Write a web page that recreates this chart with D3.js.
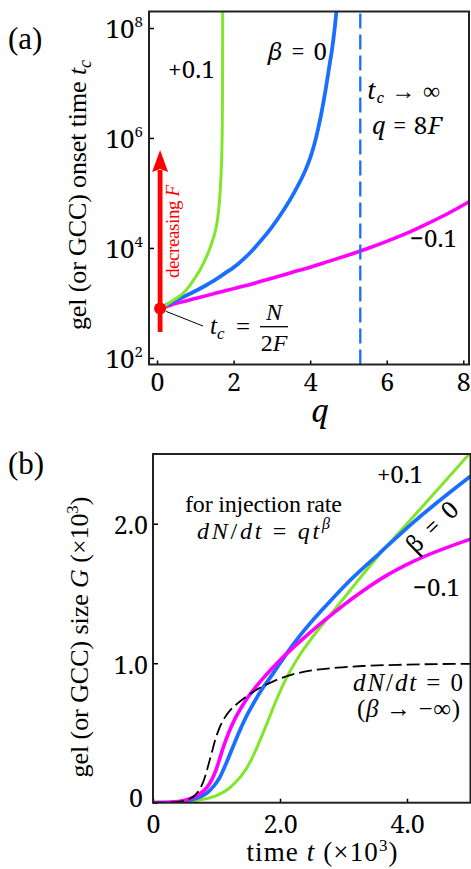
<!DOCTYPE html>
<html><head><meta charset="utf-8">
<script src="https://cdn.jsdelivr.net/npm/d3@7"></script>
<style>
body{margin:0;background:#fff}
svg{display:block}
</style>
</head><body>
<svg id="c" width="471" height="869"></svg>
<script>
// ===== Panel (a) data: gel onset time t_c vs q (t_c given as log10 exponents) =====
const qTicks = [0, 2, 4, 6, 8];
const tcTickExps = [2, 4, 6, 8];
const qDot = 0.08, tcDotExp = 2.90;           // t_c = N/2F point
const qAsymptote = 5.31;                       // q = 8F dashed line
const arrowBottomExp = 2.47, arrowTipExp = 5.78;
const qPlus01  = [0.08, 0.21, 0.45, 0.69, 0.90, 1.12, 1.30, 1.43, 1.52, 1.58, 1.625, 1.655, 1.68, 1.695, 1.705, 1.711, 1.714, 1.716];
const tcExpPlus01 = [2.90, 2.95, 3.06, 3.18, 3.36, 3.60, 3.85, 4.09, 4.30, 4.52, 4.80, 5.10, 5.45, 5.80, 6.30, 7.00, 7.70, 8.50];
const qBeta0   = [0.08, 0.30, 0.60, 0.90, 1.20, 1.50, 1.80, 2.10, 2.40, 2.70, 3.00, 3.30, 3.60, 3.91, 4.04, 4.16, 4.28, 4.40, 4.50, 4.58, 4.65, 4.70, 4.74];
const tcExpBeta0  = [2.90, 2.98, 3.08, 3.18, 3.29, 3.41, 3.55, 3.70, 3.89, 4.12, 4.38, 4.68, 5.03, 5.47, 5.72, 6.02, 6.40, 6.86, 7.30, 7.65, 8.05, 8.40, 8.70];
const qMinus01 = [0.08, 0.30, 0.60, 1.00, 1.50, 2.00, 2.50, 3.00, 3.50, 4.00, 4.50, 5.00, 5.50, 6.00, 6.50, 7.00, 7.50, 8.20];
const tcExpMinus01 = [2.90, 2.95, 3.01, 3.08, 3.17, 3.26, 3.35, 3.45, 3.55, 3.65, 3.76, 3.87, 3.99, 4.12, 4.26, 4.42, 4.59, 4.86];

// ===== Panel (b) data: gel size G (x10^3) vs time t (x10^3) =====
const tTicks = [0, 2, 4];
const tTickLabels = ["0", "2.0", "4.0"];
const gTicks = [0, 1, 2];
const gTickLabels = ["0", "1.0", "2.0"];
const tDashed = [0, 0.2, 0.4, 0.55, 0.65, 0.74, 0.80, 0.86, 0.92, 0.98, 1.05, 1.13, 1.22, 1.34, 1.50, 1.65, 1.80, 1.97, 2.20, 2.50, 2.90, 3.30, 4.00, 5.00];
const gDashed = [0, 0.001, 0.006, 0.022, 0.048, 0.10, 0.16, 0.25, 0.35, 0.45, 0.54, 0.61, 0.665, 0.715, 0.77, 0.815, 0.85, 0.885, 0.92, 0.948, 0.968, 0.98, 0.99, 0.996];
const tMinus = [0, 0.3, 0.5, 0.65, 0.77, 0.85, 0.92, 1.00, 1.06, 1.12, 1.19, 1.30, 1.40, 1.50, 1.61, 1.75, 1.87, 2.05, 2.24, 2.68, 3.31, 3.70, 4.10, 5.00];
const gMinus = [0, 0.004, 0.018, 0.042, 0.075, 0.11, 0.16, 0.245, 0.33, 0.415, 0.50, 0.61, 0.69, 0.76, 0.825, 0.90, 0.96, 1.045, 1.125, 1.30, 1.52, 1.635, 1.73, 1.89];
const tZero = [0, 0.3, 0.5, 0.70, 0.85, 0.95, 1.05, 1.15, 1.25, 1.35, 1.45, 1.58, 1.71, 1.85, 2.00, 2.20, 2.50, 2.80, 3.05, 3.57, 4.10, 5.00];
const gZero = [0, 0.003, 0.012, 0.035, 0.07, 0.115, 0.18, 0.28, 0.39, 0.50, 0.60, 0.71, 0.81, 0.90, 1.00, 1.13, 1.30, 1.45, 1.57, 1.79, 2.01, 2.34];
const tPlus = [0, 0.4, 0.7, 0.92, 1.05, 1.19, 1.32, 1.45, 1.55, 1.66, 1.77, 1.87, 1.97, 2.08, 2.29, 2.50, 2.79, 3.10, 3.52, 4.10, 4.50, 5.00];
const gPlus = [0, 0.005, 0.018, 0.038, 0.062, 0.10, 0.155, 0.23, 0.31, 0.42, 0.54, 0.655, 0.765, 0.875, 1.045, 1.18, 1.345, 1.52, 1.755, 2.05, 2.255, 2.51];

const COL_GREEN = "#80e62a", COL_BLUE = "#1a6fff", COL_MAG = "#ff00ff", COL_RED = "#ff0000";
const TIMES = '"Liberation Serif", serif';
const CAMB = '"Noto Serif", "Liberation Serif", serif';

const svg = d3.select("#c");
const defs = svg.append("defs");

function txt(sel, x, y, size, fam) {
  return sel.append("text").attr("x", x).attr("y", y).attr("font-size", size)
    .style("font-family", fam).attr("fill", "#000");
}

// ---------------- Panel (a) ----------------
const aL = 149, aR = 469, aT = 11.5, aB = 364.5;
const xA = d3.scaleLinear().domain([-0.21, 8.15]).range([aL, aR]);
const yA = d3.scaleLog().domain([Math.pow(10, 1.88), Math.pow(10, 8.30)]).range([aB, aT]);

defs.append("clipPath").attr("id", "clipA").append("rect")
  .attr("x", aL).attr("y", aT).attr("width", aR - aL).attr("height", aB - aT);

const gA = svg.append("g");

const xAxisA = gA.append("g").attr("transform", `translate(0,${aB})`)
  .call(d3.axisBottom(xA).tickValues(qTicks).tickSize(-4).tickFormat(d3.format("d")));
xAxisA.select(".domain").remove();
xAxisA.selectAll("line").attr("stroke", "#000").attr("stroke-width", 1.5);
xAxisA.selectAll("text").attr("y", 26.5).attr("dy", 0).attr("font-size", 25)
  .style("font-family", CAMB).attr("fill", "#000");

const tcTicks = tcTickExps.map(e => Math.pow(10, e));
const yAxisA = gA.append("g").attr("transform", `translate(${aL},0)`)
  .call(d3.axisLeft(yA).tickValues(tcTicks).tickSize(-5).tickFormat(""));
yAxisA.select(".domain").remove();
yAxisA.selectAll("line").attr("stroke", "#000").attr("stroke-width", 1.5);
yAxisA.selectAll(".tick").each(function(d, i) {
  const t = d3.select(this).append("text").attr("x", -6).attr("y", 9.5)
    .attr("text-anchor", "end").attr("font-size", 26).style("font-family", CAMB).attr("fill", "#000");
  t.append("tspan").text("10");
  t.append("tspan").attr("font-size", 15).attr("dy", -11).text(String(tcTickExps[i]));
});

const lineA = d3.line().x(d => xA(d[0])).y(d => yA(Math.pow(10, d[1]))).curve(d3.curveMonotoneX);
const curvesA = gA.append("g").attr("clip-path", "url(#clipA)");
curvesA.append("path").datum(d3.zip(qMinus01, tcExpMinus01)).attr("d", lineA)
  .attr("fill", "none").attr("stroke", COL_MAG).attr("stroke-width", 3.6);
curvesA.append("path").datum(d3.zip(qBeta0, tcExpBeta0)).attr("d", lineA)
  .attr("fill", "none").attr("stroke", COL_BLUE).attr("stroke-width", 3.8);
curvesA.append("path").datum(d3.zip(qPlus01, tcExpPlus01)).attr("d", lineA)
  .attr("fill", "none").attr("stroke", COL_GREEN).attr("stroke-width", 3);

gA.append("line").attr("x1", xA(qAsymptote)).attr("x2", xA(qAsymptote))
  .attr("y1", aT + 2).attr("y2", aB)
  .attr("stroke", COL_BLUE).attr("stroke-width", 2.3).attr("stroke-dasharray", "15,6");

const ax = xA(qDot);
const tipY = yA(Math.pow(10, arrowTipExp));
gA.append("line").attr("x1", ax).attr("x2", ax)
  .attr("y1", yA(Math.pow(10, arrowBottomExp))).attr("y2", tipY + 20)
  .attr("stroke", COL_RED).attr("stroke-width", 4.8);
gA.append("path").attr("d", `M${ax},${tipY} L${ax - 8},${tipY + 22} L${ax},${tipY + 19} L${ax + 8},${tipY + 22} Z`)
  .attr("fill", COL_RED);
const dotY = yA(Math.pow(10, tcDotExp));
gA.append("circle").attr("cx", ax).attr("cy", dotY).attr("r", 6).attr("fill", COL_RED);
gA.append("line").attr("x1", ax + 6).attr("y1", dotY + 3)
  .attr("x2", 203).attr("y2", 326).attr("stroke", "#000").attr("stroke-width", 1);

gA.append("rect").attr("x", aL).attr("y", aT).attr("width", aR - aL).attr("height", aB - aT)
  .attr("fill", "none").attr("stroke", "#222").attr("stroke-width", 2);

// labels panel a
txt(svg, 8, 49, 31, TIMES).text("(a)");

const yTitleA = svg.append("text").attr("transform", "translate(86,195) rotate(-90)")
  .attr("text-anchor", "middle").attr("font-size", 26).style("font-family", TIMES)
  .attr("textLength", 270).attr("lengthAdjust", "spacing");
yTitleA.append("tspan").text("gel (or GCC) onset time ");
yTitleA.append("tspan").attr("font-style", "italic").text("t");
yTitleA.append("tspan").attr("font-style", "italic").attr("font-size", 18).attr("dy", 5).text("c");

txt(svg, 320, 422, 31, CAMB).attr("text-anchor", "middle").attr("font-style", "italic").text("q");

txt(svg, 168, 78, 24, CAMB).attr("textLength", 47).attr("lengthAdjust", "spacing").text("+0.1");

const b0a = txt(svg, 268, 60, 24, CAMB).attr("textLength", 59).attr("lengthAdjust", "spacing");
b0a.append("tspan").attr("font-style", "italic").text("β");
b0a.append("tspan").text(" = 0");

const tinf = txt(svg, 367, 99, 24, CAMB).attr("textLength", 73).attr("lengthAdjust", "spacing");
tinf.append("tspan").attr("font-style", "italic").text("t");
tinf.append("tspan").attr("font-style", "italic").attr("font-size", 15).attr("dy", 4).text("c");
tinf.append("tspan").attr("dy", -4).text(" → ∞");

const q8f = txt(svg, 372, 134, 24, CAMB).attr("textLength", 70).attr("lengthAdjust", "spacing");
q8f.append("tspan").attr("font-style", "italic").text("q");
q8f.append("tspan").text(" = 8");
q8f.append("tspan").attr("font-style", "italic").text("F");

txt(svg, 410, 247, 24, CAMB).attr("textLength", 47).attr("lengthAdjust", "spacing").text("−0.1");

const decF = svg.append("text").attr("transform", "translate(179,278) rotate(-90)")
  .attr("font-size", 19).style("font-family", TIMES).attr("textLength", 93).attr("lengthAdjust", "spacing");
decF.append("tspan").attr("fill", COL_RED).text("decreasing ");
decF.append("tspan").attr("fill", COL_RED).attr("font-style", "italic").text("F");

const tcEq = txt(svg, 210, 334, 25, TIMES);
tcEq.append("tspan").attr("font-style", "italic").text("t");
tcEq.append("tspan").attr("font-style", "italic").attr("font-size", 17).attr("dy", 5).text("c");
txt(svg, 243, 335, 25, TIMES).attr("text-anchor", "middle").text("=");
svg.append("line").attr("x1", 260).attr("x2", 288).attr("y1", 326.7).attr("y2", 326.7)
  .attr("stroke", "#000").attr("stroke-width", 1.3);
txt(svg, 274, 320, 24, TIMES).attr("text-anchor", "middle").attr("font-style", "italic").text("N");
const twoF = txt(svg, 274, 351, 24, TIMES).attr("text-anchor", "middle");
twoF.append("tspan").text("2");
twoF.append("tspan").attr("font-style", "italic").text("F");

// ---------------- Panel (b) ----------------
const bL = 153, bR = 470.5, bT = 454, bB = 802.7;
const xB = d3.scaleLinear().domain([0, 5]).range([bL, bR]);
const yB = d3.scaleLinear().domain([0, 2.5]).range([bB, bT]);

defs.append("clipPath").attr("id", "clipB").append("rect")
  .attr("x", bL).attr("y", bT).attr("width", bR - bL).attr("height", bB - bT);

const gB = svg.append("g");
const xAxisB = gB.append("g").attr("transform", `translate(0,${bB})`)
  .call(d3.axisBottom(xB).tickValues(tTicks).tickSize(-4).tickFormat((d, i) => tTickLabels[i]));
xAxisB.select(".domain").remove();
xAxisB.selectAll("line").attr("stroke", "#000").attr("stroke-width", 1.5);
xAxisB.selectAll("text").attr("y", 30.5).attr("dy", 0).attr("font-size", 25)
  .style("font-family", CAMB).attr("fill", "#000");

const yAxisB = gB.append("g").attr("transform", `translate(${bL},0)`)
  .call(d3.axisLeft(yB).tickValues(gTicks).tickSize(-5).tickFormat((d, i) => gTickLabels[i]));
yAxisB.select(".domain").remove();
yAxisB.selectAll("line").attr("stroke", "#000").attr("stroke-width", 1.5);
yAxisB.selectAll("text").attr("x", (d, i) => i === 0 ? -10 : -5).attr("dy", 0)
  .attr("y", (d, i) => i === 0 ? 4 : 10).attr("font-size", 25)
  .style("font-family", CAMB).attr("fill", "#000");

const lineB = d3.line().x(d => xB(d[0])).y(d => yB(d[1])).curve(d3.curveMonotoneX);
const curvesB = gB.append("g").attr("clip-path", "url(#clipB)");
curvesB.append("path").datum(d3.zip(tPlus, gPlus)).attr("d", lineB)
  .attr("fill", "none").attr("stroke", COL_GREEN).attr("stroke-width", 3);
curvesB.append("path").datum(d3.zip(tZero, gZero)).attr("d", lineB)
  .attr("fill", "none").attr("stroke", COL_BLUE).attr("stroke-width", 3.8);
curvesB.append("path").datum(d3.zip(tMinus, gMinus)).attr("d", lineB)
  .attr("fill", "none").attr("stroke", COL_MAG).attr("stroke-width", 3.6);
curvesB.append("path").datum(d3.zip(tDashed, gDashed)).attr("d", lineB)
  .attr("fill", "none").attr("stroke", "#000").attr("stroke-width", 1.8).attr("stroke-dasharray", "13,5");

gB.append("rect").attr("x", bL).attr("y", bT).attr("width", bR - bL).attr("height", bB - bT)
  .attr("fill", "none").attr("stroke", "#222").attr("stroke-width", 2);

txt(svg, 8, 474, 31, TIMES).text("(b)");

const yTitleB = svg.append("text").attr("transform", "translate(88,637) rotate(-90)")
  .attr("text-anchor", "middle").attr("font-size", 26).style("font-family", TIMES)
  .attr("textLength", 281).attr("lengthAdjust", "spacing");
yTitleB.append("tspan").text("gel (or GCC) size ");
yTitleB.append("tspan").attr("font-style", "italic").text("G");
yTitleB.append("tspan").text(" (×10");
yTitleB.append("tspan").attr("font-size", 17).attr("dy", -10).text("3");
yTitleB.append("tspan").attr("dy", 10).text(")");

const xTitleB = txt(svg, 322, 861, 27, TIMES).attr("text-anchor", "middle")
  .attr("textLength", 151).attr("lengthAdjust", "spacing");
xTitleB.append("tspan").text("time ");
xTitleB.append("tspan").attr("font-style", "italic").text("t");
xTitleB.append("tspan").text(" (×10");
xTitleB.append("tspan").attr("font-size", 17).attr("dy", -10).text("3");
xTitleB.append("tspan").attr("dy", 10).text(")");

txt(svg, 185, 512, 24, TIMES).attr("textLength", 157).attr("lengthAdjust", "spacing").text("for injection rate");

const rate = txt(svg, 197, 539, 24, TIMES).attr("textLength", 133).attr("lengthAdjust", "spacing");
rate.append("tspan").attr("font-style", "italic").text("dN");
rate.append("tspan").text("/");
rate.append("tspan").attr("font-style", "italic").text("dt");
rate.append("tspan").text(" = ");
rate.append("tspan").attr("font-style", "italic").text("qt");
rate.append("tspan").attr("font-style", "italic").attr("font-size", 16).attr("dy", -10).text("β");

txt(svg, 377, 483, 24, CAMB).attr("textLength", 46).attr("lengthAdjust", "spacing").text("+0.1");

svg.append("text").attr("transform", "translate(438,533) rotate(-44)")
  .attr("text-anchor", "middle").attr("font-size", 24).style("font-family", CAMB)
  .attr("textLength", 62).attr("lengthAdjust", "spacing").text("β = 0");

txt(svg, 413, 596, 24, CAMB).attr("textLength", 47).attr("lengthAdjust", "spacing").text("−0.1");

const dn0 = txt(svg, 353, 691, 25, TIMES).attr("textLength", 110).attr("lengthAdjust", "spacing");
dn0.append("tspan").attr("font-style", "italic").text("dN");
dn0.append("tspan").text("/");
dn0.append("tspan").attr("font-style", "italic").text("dt");
dn0.append("tspan").text(" = 0");

const binf = txt(svg, 357, 717, 25, TIMES).attr("textLength", 103).attr("lengthAdjust", "spacing");
binf.append("tspan").text("(");
binf.append("tspan").attr("font-style", "italic").text("β");
binf.append("tspan").text(" → −∞)");
</script>
</body></html>
